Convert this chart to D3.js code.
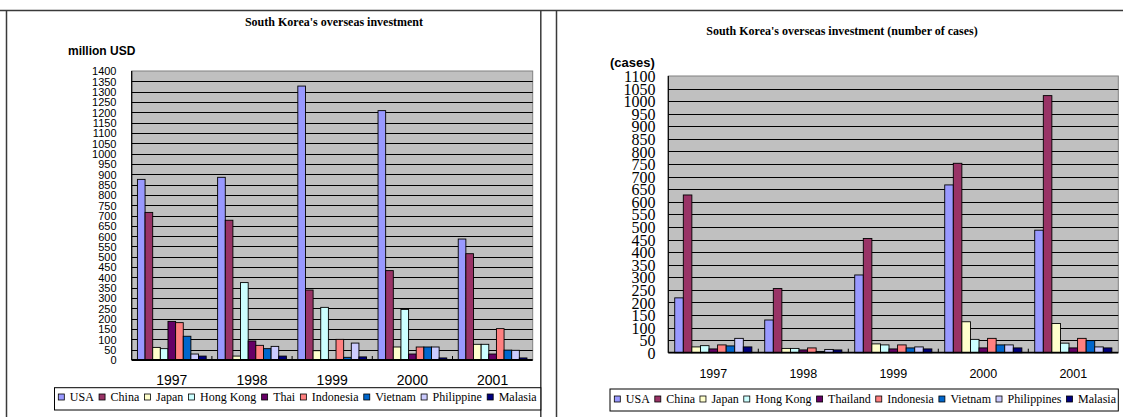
<!DOCTYPE html>
<html>
<head>
<meta charset="utf-8">
<script src="https://cdn.jsdelivr.net/npm/d3@7"></script>
<style>
  html, body { margin: 0; padding: 0; background: #fff; }
  svg { display: block; }
</style>
</head>
<body>
<svg id="chart" width="1123" height="417"></svg>
<script>
// Years on the category axis (shared by both panels)
const years = ["1997", "1998", "1999", "2000", "2001"];

// Panel 1: investment amount, million USD
const amountNames = ["USA", "China", "Japan", "Hong Kong", "Thai", "Indonesia", "Vietnam", "Philippine", "Malasia"];
const amountUSA        = [875, 885, 1327, 1208, 586];
const amountChina      = [715, 677, 339, 433, 515];
const amountJapan      = [61, 19, 45, 63, 76];
const amountHongKong   = [55, 375, 255, 245, 76];
const amountThai       = [187, 92, 3, 29, 29];
const amountIndonesia  = [181, 71, 100, 63, 152];
const amountVietnam    = [115, 55, 13, 63, 48];
const amountPhilippine = [29, 66, 82, 63, 47];
const amountMalasia    = [19, 19, 15, 10, 10];
const amountTicks = d3.range(0, 1401, 50);

// Panel 2: number of cases
const caseNames = ["USA", "China", "Japan", "Hong Kong", "Thailand", "Indonesia", "Vietnam", "Philippines", "Malasia"];
const casesUSA         = [218, 130, 309, 667, 487];
const casesChina       = [627, 255, 454, 753, 1022];
const casesJapan       = [23, 17, 35, 123, 116];
const casesHongKong    = [28, 17, 31, 53, 38];
const casesThailand    = [15, 11, 15, 19, 19];
const casesIndonesia   = [31, 19, 31, 57, 57];
const casesVietnam     = [27, 5, 19, 31, 48];
const casesPhilippines = [57, 13, 23, 31, 23];
const casesMalasia     = [23, 11, 15, 19, 19];
const caseTicks = d3.range(0, 1101, 50);

// Classic office-chart series palette
const palette = ["#9999FF", "#993366", "#FFFFCC", "#CCFFFF", "#660066", "#FF8080", "#0066CC", "#CCCCFF", "#000080"];

const svg = d3.select("#chart");
const SANS = "'Liberation Sans', Arial, sans-serif";
const SERIF = "'Liberation Serif', 'Times New Roman', serif";

// Outer frames around the two chart objects
const frame = svg.append("g").attr("fill", "none").attr("stroke", "#3a3a3a").attr("stroke-width", 1.5);
frame.append("line").attr("x1", 0).attr("x2", 1123).attr("y1", 10.5).attr("y2", 10.5);
frame.append("line").attr("x1", 6.5).attr("x2", 6.5).attr("y1", 10.5).attr("y2", 417);
frame.append("line").attr("x1", 540.8).attr("x2", 540.8).attr("y1", 10.5).attr("y2", 417);
frame.append("line").attr("x1", 556.5).attr("x2", 556.5).attr("y1", 10.5).attr("y2", 417);

function drawPanel(cfg) {
  const g = svg.append("g");
  const series = cfg.names.map((n, i) => ({ name: n, color: palette[i], values: cfg.values[i] }));

  const x = d3.scaleBand().domain(years).range([cfg.x0, cfg.x1]).padding(0);
  const xs = d3.scaleBand().domain(cfg.names).range([0, x.bandwidth()])
    .paddingInner(0).paddingOuter(0.75);
  const y = d3.scaleLinear().domain([0, d3.max(cfg.ticks)]).range([cfg.yBottom, cfg.yTop]);

  // Plot area
  g.append("rect")
    .attr("x", cfg.x0).attr("y", cfg.yTop)
    .attr("width", cfg.x1 - cfg.x0).attr("height", cfg.yBottom - cfg.yTop)
    .attr("fill", "#C0C0C0").attr("stroke", "#808080").attr("stroke-width", 1);

  // Horizontal gridlines
  g.append("g").selectAll("line")
    .data(cfg.ticks.filter(t => t > 0 && t < d3.max(cfg.ticks)))
    .join("line")
    .attr("x1", cfg.x0).attr("x2", cfg.x1)
    .attr("y1", d => Math.round(y(d)) + 0.5).attr("y2", d => Math.round(y(d)) + 0.5)
    .attr("stroke", "#000").attr("stroke-width", 1);

  // Bars
  const groups = g.append("g").selectAll("g")
    .data(series).join("g")
    .attr("fill", d => d.color);
  groups.selectAll("rect")
    .data(d => d.values.map((v, j) => ({ name: d.name, year: years[j], v })))
    .join("rect")
    .attr("x", d => x(d.year) + xs(d.name))
    .attr("width", xs.bandwidth())
    .attr("y", d => y(d.v))
    .attr("height", d => y(0) - y(d.v))
    .attr("stroke", "#000").attr("stroke-width", 0.9);

  // Value axis
  const yAxis = d3.axisLeft(y).tickValues(cfg.ticks).tickSize(0).tickPadding(0).tickFormat(d3.format("d"));
  const ya = g.append("g").attr("transform", `translate(${cfg.labelX},0)`).call(yAxis);
  ya.select(".domain").remove();
  ya.selectAll("text")
    .attr("font-family", cfg.yFont).attr("font-size", cfg.yFontSize).attr("fill", "#000")
    .attr("dy", "0.35em");
  g.append("line").attr("x1", cfg.x0).attr("x2", cfg.x0).attr("y1", cfg.yTop).attr("y2", cfg.yBottom)
    .attr("stroke", "#000").attr("stroke-width", 1.2);

  // Category axis
  const xAxis = d3.axisBottom(x).tickSize(0).tickPadding(0);
  const xa = g.append("g").attr("transform", `translate(0,${cfg.yBottom})`).call(xAxis);
  xa.select(".domain").remove();
  xa.selectAll("text")
    .attr("font-family", SANS).attr("font-size", cfg.xFontSize).attr("fill", "#000")
    .attr("y", cfg.xLabelY - cfg.yBottom).attr("dy", "0.35em");
  g.append("line").attr("x1", cfg.x0).attr("x2", cfg.x1).attr("y1", cfg.yBottom).attr("y2", cfg.yBottom)
    .attr("stroke", "#000").attr("stroke-width", 1.8);
  g.append("g").selectAll("line")
    .data(years.slice(1))
    .join("line")
    .attr("x1", d => x(d)).attr("x2", d => x(d))
    .attr("y1", cfg.yBottom - 4).attr("y2", cfg.yBottom)
    .attr("stroke", "#000").attr("stroke-width", 1);

  // Title and unit label
  g.append("text").attr("x", cfg.titleX).attr("y", cfg.titleY)
    .attr("text-anchor", "middle").attr("font-family", SERIF).attr("font-weight", "bold")
    .attr("font-size", 12).attr("fill", "#000").text(cfg.title);
  g.append("text").attr("x", cfg.unitX).attr("y", cfg.unitY)
    .attr("font-family", SANS).attr("font-weight", "bold")
    .attr("font-size", cfg.unitSize).attr("fill", "#000").text(cfg.unit);

  // Legend
  const L = cfg.legend;
  g.append("rect").attr("x", L.x0).attr("y", L.y0).attr("width", L.x1 - L.x0).attr("height", L.y1 - L.y0)
    .attr("fill", "#fff").attr("stroke", "#000").attr("stroke-width", 1);
  const items = g.append("g").selectAll("g").data(series).join("g");
  const texts = items.append("text")
    .attr("font-family", SERIF).attr("font-size", 12).attr("fill", "#000")
    .attr("dy", "0.35em").attr("y", L.cy).text(d => d.name);
  const widths = [];
  texts.each(function () { widths.push(this.getComputedTextLength()); });
  const mark = 6, gapIn = 5.5;
  const used = d3.sum(widths) + series.length * (mark + gapIn);
  const gapOut = (L.contentEnd - L.contentStart - used) / (series.length - 1);
  let cx = L.contentStart;
  items.each(function (d, i) {
    const it = d3.select(this);
    it.append("rect").attr("x", cx).attr("y", L.cy - mark / 2)
      .attr("width", mark).attr("height", mark)
      .attr("fill", d.color).attr("stroke", "#000").attr("stroke-width", 0.8);
    it.select("text").attr("x", cx + mark + gapIn);
    cx += mark + gapIn + widths[i] + gapOut;
  });
}

drawPanel({
  names: amountNames,
  values: [amountUSA, amountChina, amountJapan, amountHongKong, amountThai, amountIndonesia, amountVietnam, amountPhilippine, amountMalasia],
  ticks: amountTicks,
  x0: 131.7, x1: 532.7, yTop: 71, yBottom: 360,
  labelX: 116.5, yFont: SANS, yFontSize: 11,
  xFontSize: 14, xLabelY: 380.5,
  title: "South Korea's overseas investment", titleX: 334, titleY: 26,
  unit: "million USD", unitX: 68, unitY: 55, unitSize: 12,
  legend: { x0: 54.5, x1: 540.8, y0: 387.7, y1: 410, cy: 397, contentStart: 58.3, contentEnd: 536.7 }
});

drawPanel({
  names: caseNames,
  values: [casesUSA, casesChina, casesJapan, casesHongKong, casesThailand, casesIndonesia, casesVietnam, casesPhilippines, casesMalasia],
  ticks: caseTicks,
  x0: 668.3, x1: 1118.3, yTop: 76, yBottom: 352.7,
  labelX: 655.5, yFont: SERIF, yFontSize: 16,
  xFontSize: 12.5, xLabelY: 373.5,
  title: "South Korea's overseas investment (number of cases)", titleX: 842, titleY: 35,
  unit: "(cases)", unitX: 610, unitY: 67, unitSize: 13,
  legend: { x0: 610, x1: 1118.3, y0: 389, y1: 411, cy: 399, contentStart: 614.3, contentEnd: 1116 }
});
</script>
</body>
</html>
